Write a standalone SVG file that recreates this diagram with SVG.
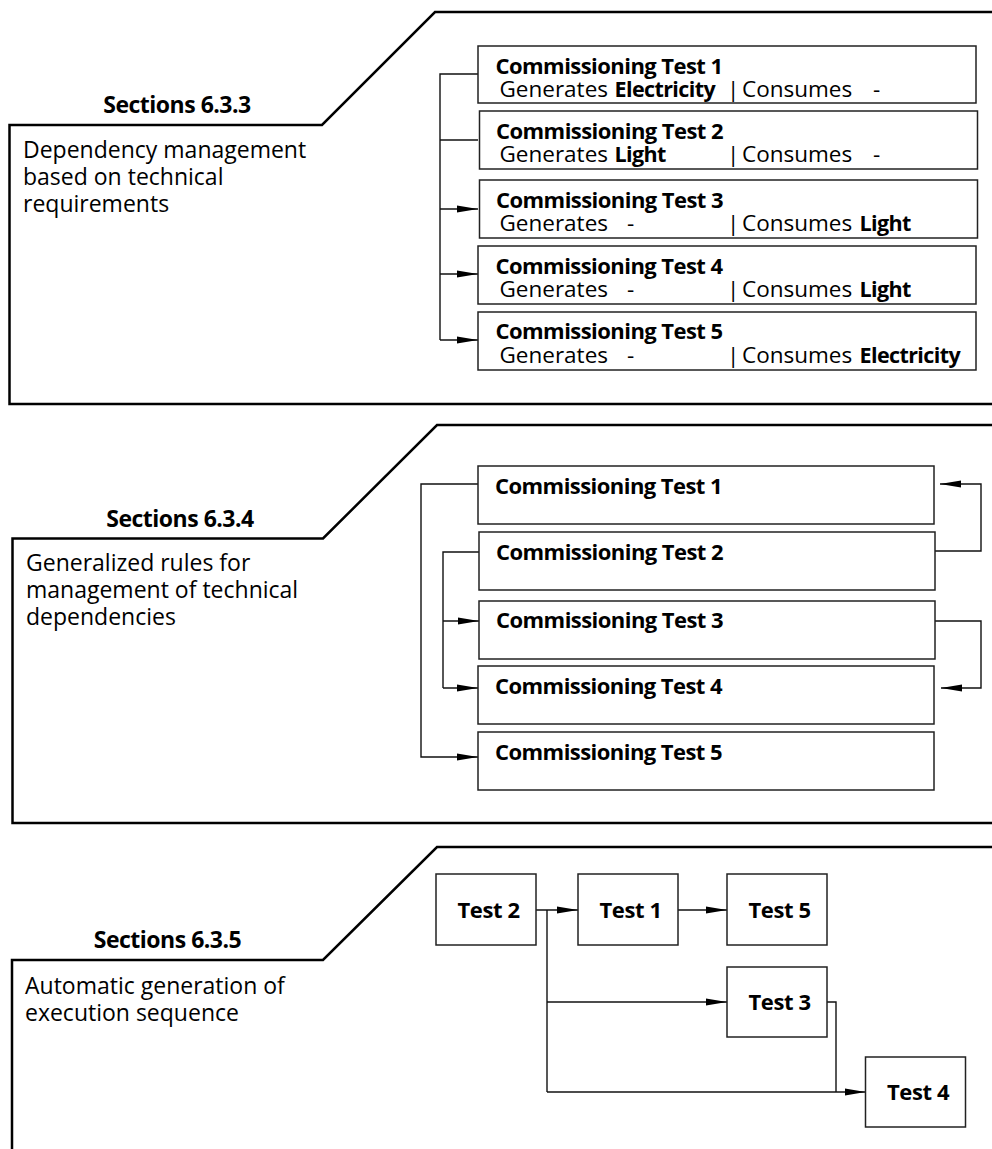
<svg xmlns="http://www.w3.org/2000/svg" width="992" height="1149" viewBox="0 0 992 1149">
  <defs>
    <marker id="arrow" markerUnits="userSpaceOnUse" markerWidth="21" markerHeight="8" refX="21" refY="4" orient="auto">
      <path d="M0,0.4 L21,4 L0,7.6 Z" fill="#000"/>
    </marker>
    <style>
      .panel { fill: none; stroke: #000; stroke-width: 2.5; }
      .box { fill: #fff; stroke: #222; stroke-width: 1.5; }
      .conn { fill: none; stroke: #111; stroke-width: 1.4; }
      .arr { marker-end: url(#arrow); }
      text { font-family: "Open Sans", "Noto Sans", "Liberation Sans", sans-serif; fill: #000; }
      .sec { font-size: 23px; font-weight: bold; text-anchor: middle; letter-spacing: -0.5px; }
      .desc { font-size: 23px; }
      .title { font-size: 22px; font-weight: bold; letter-spacing: -0.55px; }
      .line { font-size: 22.5px; }
      .b { font-size: 21.5px; font-weight: bold; letter-spacing: -0.6px; }
      .short { font-size: 22px; font-weight: bold; text-anchor: middle; letter-spacing: -0.4px; }
    </style>
  </defs>

  <!-- Section frames -->
  <g id="frames">
    <path class="panel" d="M992,12 H435 L322,125 H9.5 V404 H992"/>
    <path class="panel" d="M992,425 H437 L323,538.5 H12.5 V823 H992"/>
    <path class="panel" d="M992,847 H437 L323,960 H12 V1149"/>
  </g>

  <!-- Section headings and descriptions -->
  <g id="section-633">
    <text class="sec" x="177" y="113">Sections 6.3.3</text>
    <text class="desc" x="23" y="158">Dependency management</text>
    <text class="desc" x="23" y="185">based on technical</text>
    <text class="desc" x="23" y="212">requirements</text>
  </g>
  <g id="section-634">
    <text class="sec" x="180" y="527">Sections 6.3.4</text>
    <text class="desc" x="26" y="571">Generalized rules for</text>
    <text class="desc" x="26" y="598">management of technical</text>
    <text class="desc" x="26" y="625">dependencies</text>
  </g>
  <g id="section-635">
    <text class="sec" x="167.5" y="948">Sections 6.3.5</text>
    <text class="desc" x="25" y="994">Automatic generation of</text>
    <text class="desc" x="25" y="1021">execution sequence</text>
  </g>

  <!-- Connectors -->
  <g id="connectors">
    <!-- 6.3.3 -->
    <path class="conn" d="M478,74 H440 V340"/>
    <path class="conn" d="M478,140 H440"/>
    <path class="conn arr" d="M440,209 H478"/>
    <path class="conn arr" d="M440,274 H478"/>
    <path class="conn arr" d="M440,340 H478"/>
    <!-- 6.3.4 -->
    <path class="conn arr" d="M478,484 H421 V757 H478"/>
    <path class="conn" d="M479,552 H443 V688"/>
    <path class="conn arr" d="M443,621 H479"/>
    <path class="conn arr" d="M443,688 H478"/>
    <path class="conn arr" d="M935,551 H981 V484 H940"/>
    <path class="conn arr" d="M935,621 H981 V688 H941"/>
    <!-- 6.3.5 -->
    <path class="conn arr" d="M536,910 H578"/>
    <path class="conn arr" d="M678,910 H727"/>
    <path class="conn" d="M547,910 V1092"/>
    <path class="conn arr" d="M547,1002 H727"/>
    <path class="conn arr" d="M547,1092 H865.5"/>
    <path class="conn" d="M827,1002 H836 V1092"/>
  </g>

  <!-- 6.3.3 nodes -->
  <g id="ct1-a">
    <rect class="box" x="478" y="46" width="498" height="57"/>
    <text class="title" x="495.5" y="74">Commissioning Test 1</text>
    <text class="line" y="97"><tspan x="499.5">Generates</tspan><tspan class="b" x="614.5">Electricity</tspan><tspan x="727">|</tspan><tspan x="742">Consumes</tspan><tspan x="873">-</tspan></text>
  </g>
  <g id="ct2-a">
    <rect class="box" x="479.5" y="111" width="498" height="58"/>
    <text class="title" x="496" y="139">Commissioning Test 2</text>
    <text class="line" y="162"><tspan x="499.5">Generates</tspan><tspan class="b" x="614.5">Light</tspan><tspan x="727">|</tspan><tspan x="742">Consumes</tspan><tspan x="873">-</tspan></text>
  </g>
  <g id="ct3-a">
    <rect class="box" x="479.5" y="180" width="498" height="58"/>
    <text class="title" x="496" y="208">Commissioning Test 3</text>
    <text class="line" y="231"><tspan x="499.5">Generates</tspan><tspan x="627">-</tspan><tspan x="727">|</tspan><tspan x="742">Consumes</tspan><tspan class="b" x="859.5">Light</tspan></text>
  </g>
  <g id="ct4-a">
    <rect class="box" x="478" y="246" width="498" height="58"/>
    <text class="title" x="495.5" y="274">Commissioning Test 4</text>
    <text class="line" y="297"><tspan x="499.5">Generates</tspan><tspan x="627">-</tspan><tspan x="727">|</tspan><tspan x="742">Consumes</tspan><tspan class="b" x="859.5">Light</tspan></text>
  </g>
  <g id="ct5-a">
    <rect class="box" x="478" y="312" width="498" height="58"/>
    <text class="title" x="495.5" y="339">Commissioning Test 5</text>
    <text class="line" y="362.5"><tspan x="499.5">Generates</tspan><tspan x="627">-</tspan><tspan x="727">|</tspan><tspan x="742">Consumes</tspan><tspan class="b" x="859.5">Electricity</tspan></text>
  </g>

  <!-- 6.3.4 nodes -->
  <g id="ct1-b">
    <rect class="box" x="478" y="466" width="456" height="58"/>
    <text class="title" x="495" y="494">Commissioning Test 1</text>
  </g>
  <g id="ct2-b">
    <rect class="box" x="479" y="532" width="456" height="58"/>
    <text class="title" x="496" y="560">Commissioning Test 2</text>
  </g>
  <g id="ct3-b">
    <rect class="box" x="479" y="601" width="456" height="58"/>
    <text class="title" x="496" y="628">Commissioning Test 3</text>
  </g>
  <g id="ct4-b">
    <rect class="box" x="478" y="666" width="456" height="58"/>
    <text class="title" x="495" y="694">Commissioning Test 4</text>
  </g>
  <g id="ct5-b">
    <rect class="box" x="478" y="732" width="456" height="58"/>
    <text class="title" x="495" y="760">Commissioning Test 5</text>
  </g>

  <!-- 6.3.5 nodes -->
  <g id="t2-c">
    <rect class="box" x="436" y="874" width="100" height="71"/>
    <text class="short" x="488.5" y="918">Test 2</text>
  </g>
  <g id="t1-c">
    <rect class="box" x="578" y="874" width="100" height="71"/>
    <text class="short" x="630.5" y="918">Test 1</text>
  </g>
  <g id="t5-c">
    <rect class="box" x="727" y="874" width="100" height="71"/>
    <text class="short" x="779.5" y="918">Test 5</text>
  </g>
  <g id="t3-c">
    <rect class="box" x="727" y="967" width="100" height="70"/>
    <text class="short" x="779.5" y="1010">Test 3</text>
  </g>
  <g id="t4-c">
    <rect class="box" x="865.5" y="1057" width="100" height="70"/>
    <text class="short" x="918" y="1100">Test 4</text>
  </g>
</svg>
